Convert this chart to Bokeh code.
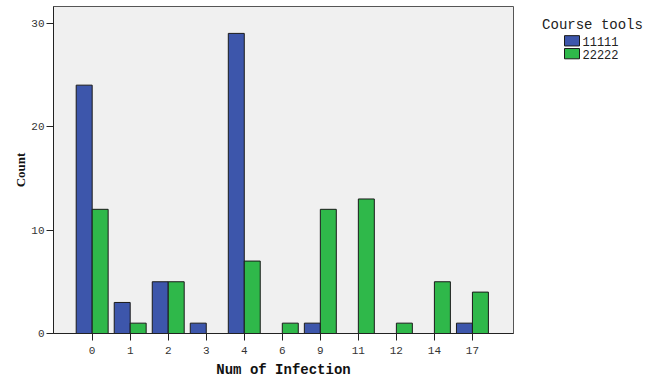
from bokeh.plotting import figure
from bokeh.models import ColumnDataSource, FixedTicker, Range1d
from bokeh.transform import dodge
from bokeh.layouts import row
from bokeh.core.properties import value
from bokeh.embed import file_html
from bokeh.resources import INLINE

categories = ["0", "1", "2", "3", "4", "6", "9", "11", "12", "14", "17"]
series_names = ["11111", "22222"]
series_colors = ["#3D56AB", "#2FB84A"]
counts_11111 = [24, 3, 5, 1, 29, 0, 1, 0, 0, 0, 1]
counts_22222 = [12, 1, 5, 0, 7, 1, 12, 13, 1, 5, 4]
y_ticks = [0, 10, 20, 30]
legend_title = "Course tools"

idx = list(range(len(categories)))
src = ColumnDataSource(dict(x=idx, a=counts_11111, b=counts_22222))

H = 372
X0, X1, Y1 = -1.017, 11.08, 31.6
p = figure(width=517, height=H, output_backend="svg", toolbar_location=None,
           x_range=Range1d(X0, X1), y_range=Range1d(0, Y1),
           frame_width=460, frame_height=327,
           min_border_left=53, min_border_top=6, min_border_bottom=0, min_border_right=4)

p.background_fill_color = "#F0F0F0"
p.border_fill_color = "white"
p.outline_line_color = "#555555"
p.outline_line_width = 1

bw = 0.42
p.vbar(x=dodge("x", -bw / 2, range=p.x_range), top="a", width=bw, source=src,
       fill_color=series_colors[0], line_color="#1a1a1a", line_width=1)
p.vbar(x=dodge("x", bw / 2, range=p.x_range), top="b", width=bw, source=src,
       fill_color=series_colors[1], line_color="#1a1a1a", line_width=1)

p.xgrid.visible = False
p.ygrid.visible = False

p.xaxis.ticker = FixedTicker(ticks=idx)
p.xaxis.major_label_overrides = {i: c for i, c in zip(idx, categories)}
p.yaxis.ticker = FixedTicker(ticks=y_ticks)
for ax in (p.xaxis[0], p.yaxis[0]):
    ax.minor_tick_line_color = None
    ax.major_tick_in = 0
    ax.major_tick_out = 7
    ax.major_tick_line_color = "#222222"
    ax.axis_line_color = "#222222"
    ax.major_label_text_font = "Liberation Mono"
    ax.major_label_text_font_size = "11px"
    ax.major_label_text_color = "#333333"
    ax.axis_label_text_font_style = "bold"
    ax.axis_label_text_color = "#111111"

p.xaxis.axis_label = "Num of Infection"
p.xaxis.axis_label_text_font = "Liberation Mono"
p.xaxis.axis_label_text_font_size = "14px"
p.xaxis.axis_label_standoff = 5
p.xaxis.major_label_standoff = 6
p.yaxis.axis_label = "Count"
p.yaxis.axis_label_text_font = "Liberation Serif"
p.yaxis.axis_label_text_font_size = "13px"
p.yaxis.axis_label_standoff = 0
p.yaxis.major_label_standoff = 2

# legend panel (separate figure in pixel coordinates, y downward)
LW = 138
leg = figure(width=LW, height=H, output_backend="svg", toolbar_location=None,
             x_range=Range1d(0, LW), y_range=Range1d(H, 0),
             min_border=0)
leg.axis.visible = False
leg.grid.visible = False
leg.outline_line_color = None
leg.background_fill_color = "white"
leg.border_fill_color = "white"

leg.text(x=[75], y=[22], text=[legend_title], text_font=value("Liberation Mono"),
         text_font_size=value("14px"), text_color="#222222",
         text_align="center", text_baseline="middle")
sw_y = [40 + 15 * i for i in range(len(series_names))]
leg.rect(x=[54.5] * len(series_names), y=sw_y, width=15, height=12,
         fill_color=series_colors, line_color="#1a1a1a", line_width=1)
leg.text(x=[65] * len(series_names), y=[v + 1 for v in sw_y], text=series_names,
         text_font=value("Liberation Mono"), text_font_size=value("12px"),
         text_color="#222222", text_align="left", text_baseline="middle")

layout = row(p, leg)
open("out.html", "w").write(file_html(layout, INLINE))
